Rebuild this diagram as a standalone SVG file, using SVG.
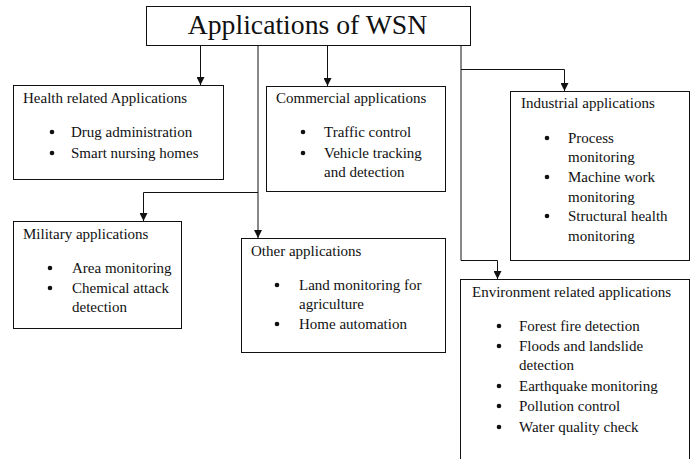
<svg xmlns="http://www.w3.org/2000/svg" width="696" height="459" viewBox="0 0 696 459">
<style>
.box{fill:#fff;stroke:#111;stroke-width:1}
.ln{fill:none;stroke:#111;stroke-width:1}
.t{font-family:'Liberation Serif','Times New Roman',Times,serif;font-size:15px;fill:#111}
.h{font-family:'Liberation Serif','Times New Roman',Times,serif;font-size:27.7px;fill:#111}
.b{fill:#111}
</style>
<defs>
<marker id="ar" viewBox="0 0 8 8" refX="8" refY="4" markerWidth="8" markerHeight="8" markerUnits="userSpaceOnUse" orient="auto">
<path d="M0,0 L8,4 L0,8 Z" fill="#111"/>
</marker>
</defs>
<rect width="696" height="459" fill="#fff"/>
<g id="connectors">
<path class="ln" d="M200.5,46 V85" marker-end="url(#ar)"/>
<path class="ln" d="M327.5,46 V86" marker-end="url(#ar)"/>
<path class="ln" d="M258,46 V238" marker-end="url(#ar)"/>
<path class="ln" d="M258,192.5 H143.5 V221" marker-end="url(#ar)"/>
<path class="ln" d="M461,46 V260.5 H497.5 V279" marker-end="url(#ar)"/>
<path class="ln" d="M461,69.5 H564.5 V91" marker-end="url(#ar)"/>
</g>
<g id="root">
<rect class="box" x="146.5" y="6.5" width="324" height="39"/>
<text class="h" x="307.5" y="34" text-anchor="middle">Applications of WSN</text>
</g>
<g id="health">
<rect class="box" x="13.5" y="85.5" width="210" height="94"/>
<text class="t" x="23" y="103">Health related Applications</text>
<circle class="b" cx="52" cy="132" r="2.3"/><text class="t" x="71" y="137">Drug administration</text>
<circle class="b" cx="52" cy="153" r="2.3"/><text class="t" x="71" y="158">Smart nursing homes</text>
</g>
<g id="commercial">
<rect class="box" x="266.5" y="86.5" width="179" height="105"/>
<text class="t" x="276" y="103">Commercial applications</text>
<circle class="b" cx="303" cy="132" r="2.3"/><text class="t" x="324" y="137">Traffic control</text>
<circle class="b" cx="303" cy="153" r="2.3"/><text class="t" x="324" y="158">Vehicle tracking</text>
<text class="t" x="324" y="177">and detection</text>
</g>
<g id="industrial">
<rect class="box" x="510.5" y="91.5" width="179" height="169"/>
<text class="t" x="521" y="108">Industrial applications</text>
<circle class="b" cx="547" cy="138" r="2.3"/><text class="t" x="568" y="143">Process</text>
<text class="t" x="568" y="162">monitoring</text>
<circle class="b" cx="547" cy="177" r="2.3"/><text class="t" x="568" y="182">Machine work</text>
<text class="t" x="568" y="202">monitoring</text>
<circle class="b" cx="547" cy="216" r="2.3"/><text class="t" x="568" y="221">Structural health</text>
<text class="t" x="568" y="241">monitoring</text>
</g>
<g id="military">
<rect class="box" x="13.5" y="221.5" width="168" height="107"/>
<text class="t" x="23" y="239">Military applications</text>
<circle class="b" cx="50" cy="268" r="2.3"/><text class="t" x="72" y="273">Area monitoring</text>
<circle class="b" cx="50" cy="288" r="2.3"/><text class="t" x="72" y="293">Chemical attack</text>
<text class="t" x="72" y="312">detection</text>
</g>
<g id="other">
<rect class="box" x="241.5" y="238.5" width="204" height="114"/>
<text class="t" x="251" y="256">Other applications</text>
<circle class="b" cx="277" cy="285" r="2.3"/><text class="t" x="299" y="290">Land monitoring for</text>
<text class="t" x="299" y="309">agriculture</text>
<circle class="b" cx="277" cy="324" r="2.3"/><text class="t" x="299" y="329">Home automation</text>
</g>
<g id="environment">
<rect class="box" x="460.5" y="279.5" width="229" height="200"/>
<text class="t" x="472" y="297">Environment related applications</text>
<circle class="b" cx="499" cy="326" r="2.3"/><text class="t" x="519" y="331">Forest fire detection</text>
<circle class="b" cx="499" cy="346" r="2.3"/><text class="t" x="519" y="351">Floods and landslide</text>
<text class="t" x="519" y="370">detection</text>
<circle class="b" cx="499" cy="386" r="2.3"/><text class="t" x="519" y="391">Earthquake monitoring</text>
<circle class="b" cx="499" cy="406" r="2.3"/><text class="t" x="519" y="411">Pollution control</text>
<circle class="b" cx="499" cy="427" r="2.3"/><text class="t" x="519" y="432">Water quality check</text>
</g>
</svg>
